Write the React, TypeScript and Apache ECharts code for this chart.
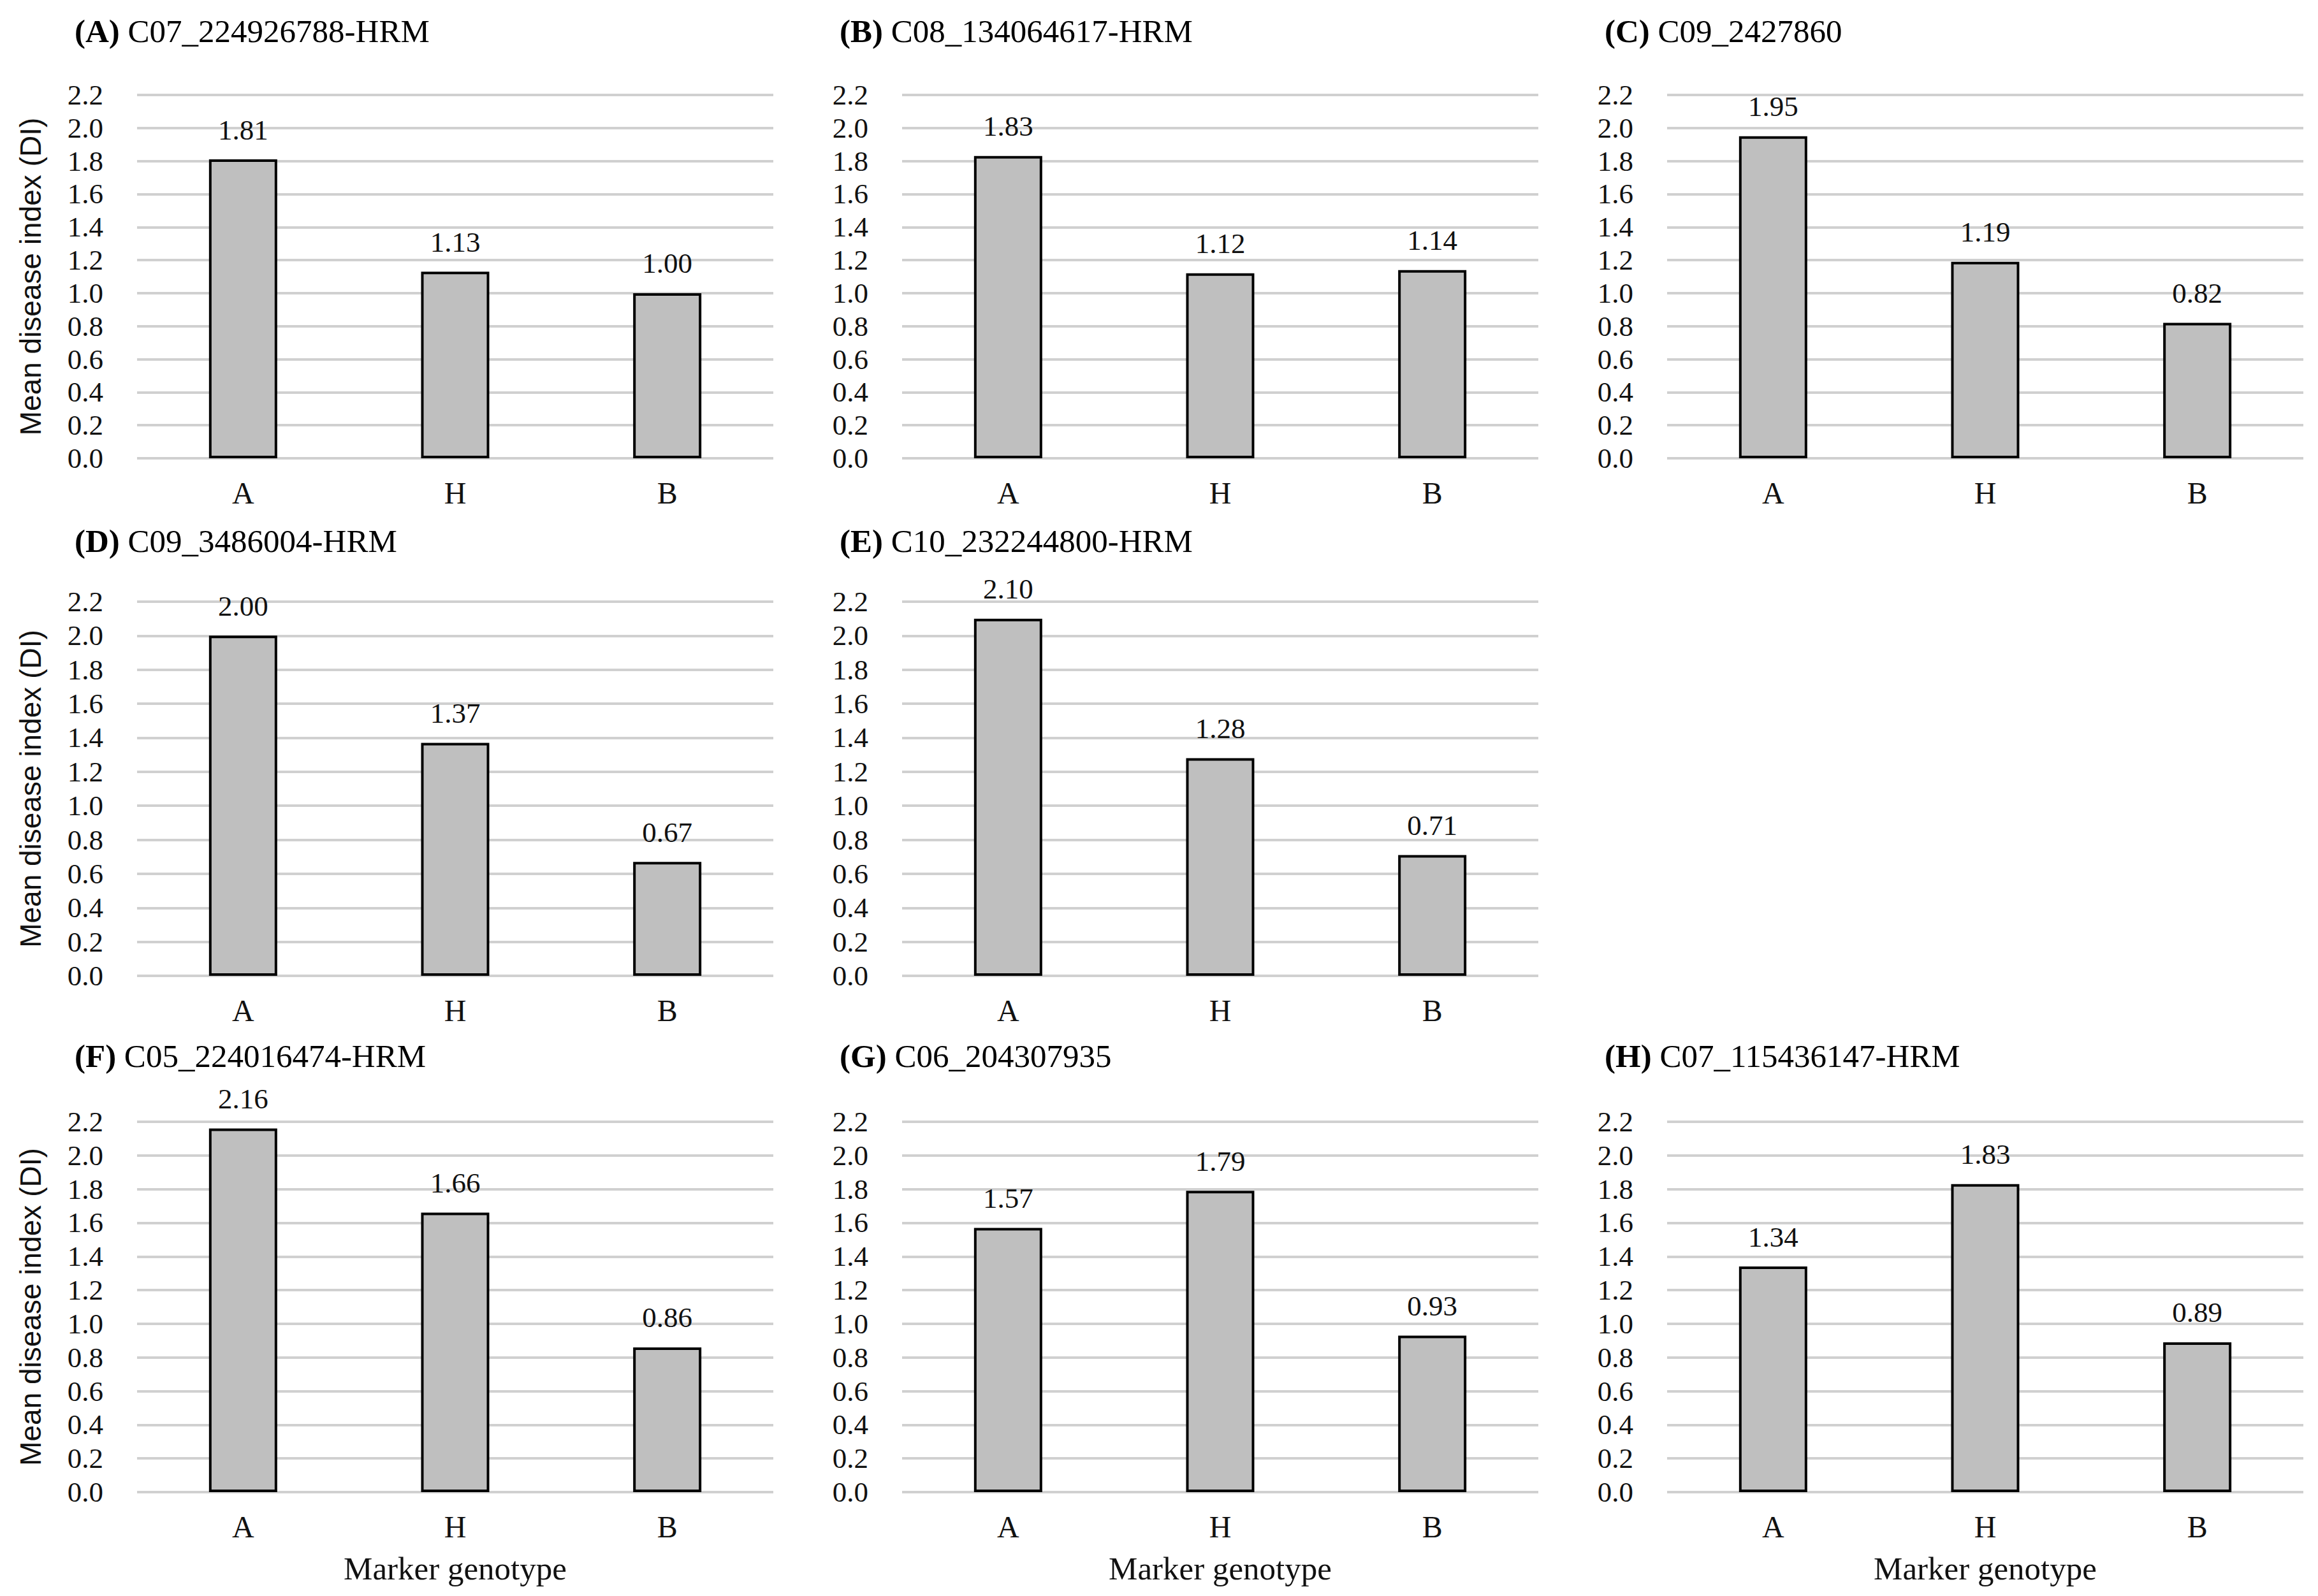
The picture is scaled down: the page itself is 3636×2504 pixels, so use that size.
import React, { useEffect, useRef } from "react";
import * as echarts from "echarts";

// ---- data ----
const CATEGORIES = ["A", "H", "B"];
const PANEL_LETTERS = ["A", "B", "C", "D", "E", "F", "G", "H"];
const MARKERS = [
  "C07_224926788-HRM",
  "C08_134064617-HRM",
  "C09_2427860",
  "C09_3486004-HRM",
  "C10_232244800-HRM",
  "C05_224016474-HRM",
  "C06_204307935",
  "C07_115436147-HRM",
];
const VALUES_A = [1.81, 1.13, 1.0];
const VALUES_B = [1.83, 1.12, 1.14];
const VALUES_C = [1.95, 1.19, 0.82];
const VALUES_D = [2.0, 1.37, 0.67];
const VALUES_E = [2.1, 1.28, 0.71];
const VALUES_F = [2.16, 1.66, 0.86];
const VALUES_G = [1.57, 1.79, 0.93];
const VALUES_H = [1.34, 1.83, 0.89];
const PANEL_VALUES = [VALUES_A, VALUES_B, VALUES_C, VALUES_D, VALUES_E, VALUES_F, VALUES_G, VALUES_H];
const Y_MIN = 0;
const Y_MAX = 2.2;
const Y_STEP = 0.2;
const Y_TITLE = "Mean disease index (DI)";
const X_TITLE = "Marker genotype";

// ---- layout ----
const PANEL_CELLS = [
  [0, 0], [0, 1], [0, 2],
  [1, 0], [1, 1],
  [2, 0], [2, 1], [2, 2],
];
const COL_LEFT = [215, 1415, 2615];
const PLOT_W = 998;
const ROW_TOP = [149, 944, 1760];
const ROW_H = [570, 587, 581];
const ROW_TITLE_TOP = [18, 818, 1626];
const SERIF = "'Liberation Serif', 'Times New Roman', serif";
const SANS = "'Liberation Sans', Arial, sans-serif";

function buildOption() {
  const grid: any[] = [];
  const xAxis: any[] = [];
  const yAxis: any[] = [];
  const series: any[] = [];
  const title: any[] = [];
  PANEL_CELLS.forEach(([r, c], i) => {
    grid.push({ left: COL_LEFT[c], top: ROW_TOP[r], width: PLOT_W, height: ROW_H[r], containLabel: false });
    title.push({
      left: COL_LEFT[c] - 103,
      top: ROW_TITLE_TOP[r],
      text: `{b|(${PANEL_LETTERS[i]})} ${MARKERS[i]}`,
      textStyle: {
        fontFamily: SERIF,
        fontSize: 51,
        fontWeight: "normal",
        color: "#000",
        rich: { b: { fontFamily: SERIF, fontSize: 51, fontWeight: "bold", color: "#000" } },
      },
    });
    xAxis.push({
      type: "category",
      gridIndex: i,
      data: CATEGORIES,
      axisLine: { show: false },
      axisTick: { show: false },
      axisLabel: { fontFamily: SERIF, fontSize: 48, color: "#111", margin: 30 },
      name: r === 2 ? X_TITLE : "",
      nameLocation: "middle",
      nameGap: 94,
      nameTextStyle: { fontFamily: SERIF, fontSize: 51, color: "#111" },
    });
    yAxis.push({
      type: "value",
      gridIndex: i,
      min: Y_MIN,
      max: Y_MAX,
      interval: Y_STEP,
      axisLine: { show: false },
      axisTick: { show: false },
      axisLabel: {
        fontFamily: SERIF,
        fontSize: 45,
        color: "#111",
        margin: 53,
        formatter: (v: number) => v.toFixed(1),
      },
      splitLine: { show: true, lineStyle: { color: "#d0d0d0", width: 4 } },
      name: c === 0 ? Y_TITLE : "",
      nameLocation: "middle",
      nameRotate: 90,
      nameGap: 144,
      nameTextStyle: { fontFamily: SANS, fontSize: 46, color: "#111" },
    });
    series.push({
      type: "bar",
      xAxisIndex: i,
      yAxisIndex: i,
      data: PANEL_VALUES[i],
      barWidth: 107,
      itemStyle: { color: "#bfbfbf", borderColor: "#000", borderWidth: 4 },
      label: {
        show: true,
        position: "top",
        distance: 24,
        fontFamily: SERIF,
        fontSize: 45,
        color: "#111",
        formatter: (p: any) => Number(p.value).toFixed(2),
      },
    });
  });
  return { animation: false, backgroundColor: "#fff", title, grid, xAxis, yAxis, series };
}

export default function App() {
  const ref = useRef<HTMLDivElement>(null);
  useEffect(() => {
    document.body.style.margin = "0";
    document.body.style.overflow = "hidden";
    if (!ref.current) return;
    const chart = echarts.init(ref.current, null, { renderer: "svg" });
    chart.setOption(buildOption());
    return () => chart.dispose();
  }, []);
  return <div ref={ref} style={{ width: 3636, height: 2504 }} />;
}
